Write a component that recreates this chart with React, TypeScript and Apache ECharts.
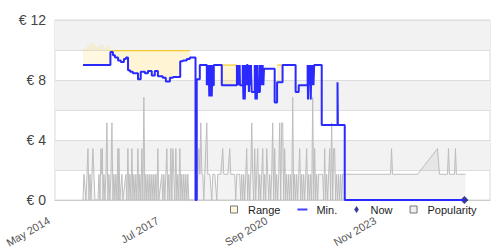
import React, { useEffect, useRef } from "react";
import * as echarts from "echarts";

// ---- axis definitions (decimal years) ----
const xMin = 2014 + 4 / 12; // May 2014
const xMax = 2027.0;
const xTickValues = [2014 + 4 / 12, 2017 + 6 / 12, 2020 + 8 / 12, 2023 + 10 / 12];
const xTickLabels = ["May 2014", "Jul 2017", "Sep 2020", "Nov 2023"];
const yLabelValues = [0, 4, 8, 12];

// ---- Min. price (step) : [year, €] ----
const minPoints: [number, number][] = [
  [2015.148, 9.0], [2015.947, 9.87], [2016.02, 9.65], [2016.08, 9.5], [2016.17, 9.3],
  [2016.25, 9.2], [2016.34, 9.4], [2016.4, 9.5], [2016.46, 8.65], [2016.52, 8.55],
  [2016.6, 8.45], [2016.75, 8.05], [2016.83, 8.55], [2016.95, 8.45], [2017.04, 8.6],
  [2017.15, 8.3], [2017.24, 8.6], [2017.33, 8.25], [2017.47, 8.15], [2017.56, 7.9],
  [2017.68, 8.15], [2017.77, 8.2], [2017.98, 9.25], [2018.06, 9.3], [2018.17, 9.4],
  [2018.26, 9.5], [2018.425, 0], [2018.46, 8.05], [2018.55, 9.0],
  [2018.754, 7.65], [2018.772, 9.0], [2018.79, 7.65], [2018.808, 9.0], [2018.826, 6.9],
  [2018.844, 9.0], [2018.862, 6.9], [2018.88, 9.0], [2018.898, 6.9], [2018.916, 9.0],
  [2018.934, 7.65], [2018.957, 9.0], [2019.19, 7.65], [2019.63, 9.0], [2019.65, 7.65],
  [2019.67, 9.0], [2019.69, 7.65], [2019.71, 9.0], [2019.72, 7.65], [2019.8, 9.0],
  [2019.82, 6.7], [2019.84, 9.0], [2019.86, 6.7], [2019.88, 9.0], [2019.9, 7.65],
  [2019.92, 9.0], [2019.945, 7.65], [2019.96, 9.0], [2019.98, 7.2], [2020.0, 9.0],
  [2020.02, 7.65], [2020.04, 9.0], [2020.06, 7.2], [2020.15, 9.0], [2020.17, 6.7],
  [2020.19, 9.0], [2020.21, 6.7], [2020.23, 9.0], [2020.25, 7.2], [2020.3, 9.0],
  [2020.32, 7.65], [2020.34, 9.0], [2020.36, 7.65], [2020.38, 9.0], [2020.4, 7.65],
  [2020.42, 8.75], [2020.73, 6.5], [2020.8, 7.85], [2020.96, 9.0], [2021.34, 7.2],
  [2021.43, 7.65], [2021.69, 9.0], [2021.7, 6.7], [2021.72, 9.0], [2021.74, 7.65],
  [2021.76, 9.0], [2021.78, 6.7], [2021.8, 9.0], [2021.82, 7.65], [2021.84, 9.0],
  [2021.86, 7.65], [2021.88, 9.0], [2022.1, 5.0], [2022.56, 7.85], [2022.57, 5.0],
  [2022.77, 0], [2026.256, 0],
];

// ---- Range upper bound (step): [year, € or null] ----
const rangeSteps: [number, number | null][] = [
  [2015.148, 10.1], [2015.26, 10.3], [2015.35, 10.45], [2015.5, 10.2], [2015.62, 10.35],
  [2015.75, 10.15], [2015.85, 10.3], [2015.947, 9.95], [2018.26, null],
  [2019.19, 9.0], [2019.63, null], [2020.8, 9.0], [2020.96, null],
];

// ---- Now ----
const nowPoint: [number, number] = [2026.256, 0];

// ---- Popularity (level 0..4) ----
const popPoints: [number, number][] = [
  [2015.147, 0], [2015.176, 1], [2015.234, 0], [2015.264, 1], [2015.293, 2], [2015.322, 0],
  [2015.351, 1], [2015.38, 0], [2015.409, 1], [2015.438, 2], [2015.467, 1], [2015.496, 0],
  [2015.583, 0], [2015.613, 1], [2015.642, 0], [2015.671, 2], [2015.7, 1], [2015.714, 2],
  [2015.729, 0], [2015.758, 1], [2015.787, 0], [2015.816, 1], [2015.845, 3], [2015.874, 0],
  [2015.903, 1], [2015.932, 0], [2015.962, 1], [2015.991, 3], [2016.02, 0], [2016.049, 1],
  [2016.078, 0], [2016.107, 1], [2016.136, 0], [2016.165, 2], [2016.18, 0], [2016.194, 2],
  [2016.223, 0], [2016.281, 1], [2016.31, 0], [2016.398, 1], [2016.427, 0], [2016.456, 2],
  [2016.485, 0], [2016.514, 1], [2016.543, 0], [2016.572, 2], [2016.601, 0], [2016.63, 1],
  [2016.659, 0], [2016.688, 1], [2016.718, 0], [2016.747, 2], [2016.776, 0], [2016.805, 1],
  [2016.834, 0], [2016.863, 2], [2016.892, 0], [2016.921, 4], [2016.95, 0], [2016.979, 1],
  [2017.008, 0], [2017.037, 1], [2017.066, 0], [2017.096, 1], [2017.125, 0], [2017.154, 1],
  [2017.183, 0], [2017.212, 1], [2017.241, 0], [2017.27, 1], [2017.299, 0], [2017.328, 2],
  [2017.357, 0], [2017.444, 1], [2017.474, 0], [2017.503, 1], [2017.532, 0], [2017.561, 1],
  [2017.59, 2], [2017.619, 0], [2017.648, 1], [2017.677, 0], [2017.706, 2], [2017.736, 0],
  [2017.765, 2], [2017.794, 1], [2017.823, 0], [2017.852, 2], [2017.881, 0], [2017.91, 1],
  [2017.939, 0], [2017.968, 2], [2017.997, 0], [2018.026, 1], [2018.055, 0], [2018.084, 1],
  [2018.114, 0], [2018.143, 1], [2018.172, 0], [2018.201, 1], [2018.23, 0],
  [2018.462, 0], [2018.492, 1], [2018.521, 2], [2018.55, 1], [2018.579, 3], [2018.608, 1],
  [2018.637, 1], [2018.666, 0], [2018.695, 1], [2018.753, 3], [2018.782, 1], [2018.841, 1],
  [2018.899, 0], [2018.928, 1], [2018.986, 1], [2019.044, 0], [2019.073, 1], [2019.16, 1],
  [2019.218, 2], [2019.248, 1], [2019.364, 1], [2019.422, 2], [2019.451, 1], [2019.567, 1],
  [2019.596, 0], [2019.626, 1], [2019.713, 1], [2019.742, 0], [2019.771, 1], [2019.8, 0],
  [2019.829, 1], [2019.858, 0], [2019.887, 1], [2019.916, 2], [2019.945, 0], [2019.975, 1],
  [2020.004, 0], [2020.033, 1], [2020.062, 3], [2020.091, 1], [2020.12, 0], [2020.149, 2],
  [2020.178, 0], [2020.207, 1], [2020.236, 2], [2020.266, 0], [2020.295, 1], [2020.324, 0],
  [2020.353, 1], [2020.382, 2], [2020.411, 0], [2020.44, 1], [2020.469, 0], [2020.498, 2],
  [2020.527, 1], [2020.557, 0], [2020.586, 1], [2020.615, 0], [2020.644, 1], [2020.673, 3],
  [2020.702, 0], [2020.731, 2], [2020.76, 0], [2020.789, 1], [2020.818, 0], [2020.848, 1],
  [2020.877, 3], [2020.906, 0], [2020.935, 3], [2020.964, 3], [2020.993, 0], [2021.022, 2],
  [2021.051, 0], [2021.08, 1], [2021.109, 0], [2021.139, 1], [2021.168, 0], [2021.197, 1],
  [2021.226, 0], [2021.255, 4], [2021.284, 0], [2021.313, 1], [2021.342, 0], [2021.371, 1],
  [2021.4, 0], [2021.43, 1], [2021.459, 2], [2021.488, 0], [2021.517, 1], [2021.546, 0],
  [2021.575, 1], [2021.604, 0], [2021.633, 1], [2021.662, 2], [2021.692, 0], [2021.721, 1],
  [2021.75, 0], [2021.779, 1], [2021.808, 0], [2021.837, 4], [2021.866, 0], [2021.895, 2],
  [2021.924, 0], [2021.953, 1], [2021.982, 0], [2022.011, 1], [2022.07, 1], [2022.128, 1],
  [2022.157, 0], [2022.186, 2], [2022.215, 0], [2022.244, 1], [2022.273, 0], [2022.331, 2],
  [2022.36, 0], [2022.39, 3], [2022.419, 0], [2022.448, 2], [2022.477, 2], [2022.506, 0],
  [2022.535, 1], [2022.564, 0], [2022.593, 1], [2022.622, 0], [2022.651, 1], [2022.68, 0],
  [2022.709, 1], [2024.104, 1], [2024.133, 2], [2024.162, 1], [2024.889, 1], [2025.471, 2],
  [2025.529, 1], [2025.762, 1], [2025.791, 2], [2025.82, 1], [2025.965, 1], [2025.994, 2],
  [2026.023, 1], [2026.285, 1],
];

const FONT = "'Liberation Sans', Arial, sans-serif";

function minAt(x: number): number {
  let v = minPoints[0][1];
  for (const [px, pv] of minPoints) {
    if (px <= x + 1e-9) v = pv;
    else break;
  }
  return v;
}

function buildRangeRects(): [number, number, number, number, number][] {
  const out: [number, number, number, number, number][] = [];
  for (let i = 0; i < rangeSteps.length - 1; i++) {
    const [a, hi] = rangeSteps[i];
    const b = rangeSteps[i + 1][0];
    if (hi == null) continue;
    const cuts = [a, ...minPoints.map((p) => p[0]).filter((x) => x > a && x < b), b];
    for (let k = 0; k < cuts.length - 1; k++) {
      out.push([cuts[k], cuts[k + 1], minAt(cuts[k]), hi, hi < 10 ? 1 : 0]);
    }
  }
  return out;
}

function fmtX(v: number): string {
  let best = 0;
  for (let i = 1; i < xTickValues.length; i++) {
    if (Math.abs(xTickValues[i] - v) < Math.abs(xTickValues[best] - v)) best = i;
  }
  return Math.abs(xTickValues[best] - v) < 0.01 ? xTickLabels[best] : "";
}

export default function App() {
  const ref = useRef<HTMLDivElement>(null);
  useEffect(() => {
    const chart = echarts.init(ref.current!, null, { renderer: "svg" });
    const sq = "path://M0,0H10V10H0Z";
    chart.setOption({
      animation: false,
      backgroundColor: "#ffffff",
      textStyle: { fontFamily: FONT },
      grid: { left: 55, right: 10, top: 20, bottom: 50, show: true, borderColor: "#d9d9d9", borderWidth: 1 },
      legend: {
        left: 225,
        top: 199,
        itemWidth: 10,
        itemHeight: 7,
        itemGap: 17,
        selectedMode: false,
        textStyle: { fontSize: 11, color: "#222", fontFamily: FONT, padding: [0, 0, 0, 4] },
        data: [
          { name: "Range", icon: sq, itemStyle: { color: "#fff6dc", borderColor: "#777", borderWidth: 1 } },
          { name: "Min.", icon: "path://M0,0H10V2H0Z", itemStyle: { color: "#4040ff" } },
          { name: "Now", icon: "path://M2,0L4,3L2,6L0,3Z", itemStyle: { color: "#0a0a80" } },
          { name: "Popularity", icon: sq, itemStyle: { color: "#eeeeee", borderColor: "#777", borderWidth: 1 } },
        ],
      },
      xAxis: {
        type: "value",
        min: xMin,
        max: xMax,
        axisLine: { show: true, lineStyle: { color: "#cccccc" } },
        axisTick: { show: false },
        splitLine: { show: false },
        axisLabel: {
          customValues: xTickValues,
          formatter: fmtX,
          rotate: 30,
          margin: 16,
          padding: [0, 7, 0, 0],
          fontSize: 11,
          color: "#555",
          fontFamily: FONT,
        },
      },
      yAxis: [
        {
          type: "value",
          min: 0,
          max: 12,
          interval: 2,
          axisLine: { show: false },
          axisTick: { show: false },
          splitLine: { lineStyle: { color: "#dddddd" } },
          splitArea: { show: true, areaStyle: { color: ["rgba(255,255,255,0)", "#f2f2f2"] } },
          axisLabel: {
            formatter: (v: number) => (yLabelValues.indexOf(v) >= 0 ? "€ " + v : ""),
            fontSize: 14,
            color: "#444",
            margin: 9,
            fontFamily: FONT,
          },
        },
        { type: "value", min: 0, max: 7, show: false },
      ],
      series: [
        {
          name: "Popularity",
          type: "line",
          yAxisIndex: 1,
          data: popPoints,
          symbol: "none",
          z: 1,
          lineStyle: { color: "#bdbdbd", width: 1 },
          itemStyle: { color: "#eeeeee" },
          areaStyle: { color: "rgba(0,0,0,0.07)" },
        },
        {
          name: "Range",
          type: "custom",
          z: 2,
          data: buildRangeRects(),
          encode: { x: [0, 1], y: [2, 3] },
          itemStyle: { color: "#fff6dc" },
          renderItem: (params: any, api: any) => {
            const x0 = api.value(0), x1 = api.value(1), lo = api.value(2), hi = api.value(3), edge = api.value(4);
            const p0 = api.coord([x0, hi]);
            const p1 = api.coord([x1, lo]);
            const children: any[] = [
              {
                type: "rect",
                shape: { x: p0[0], y: p0[1], width: p1[0] - p0[0], height: p1[1] - p0[1] },
                style: { fill: edge ? "rgba(255,210,60,0.22)" : "rgba(255,210,60,0.16)" },
              },
            ];
            if (edge) {
              children.push({
                type: "line",
                shape: { x1: p0[0], y1: p0[1], x2: p1[0], y2: p0[1] },
                style: { stroke: "#f5c400", lineWidth: 1 },
              });
            }
            return { type: "group", children };
          },
        },
        {
          name: "Now",
          type: "scatter",
          z: 3,
          data: [nowPoint],
          symbol: "diamond",
          symbolSize: [8, 8],
          itemStyle: { color: "#0a0a80" },
        },
        {
          name: "Min.",
          type: "line",
          z: 4,
          step: "end",
          data: minPoints,
          symbol: "none",
          lineStyle: { color: "#2a2aff", width: 2 },
          itemStyle: { color: "#4040ff" },
        },
      ],
    });
    return () => chart.dispose();
  }, []);
  return (
    <div
      ref={ref}
      style={{ position: "fixed", left: 0, top: 0, width: 500, height: 250, background: "#fff" }}
    />
  );
}
